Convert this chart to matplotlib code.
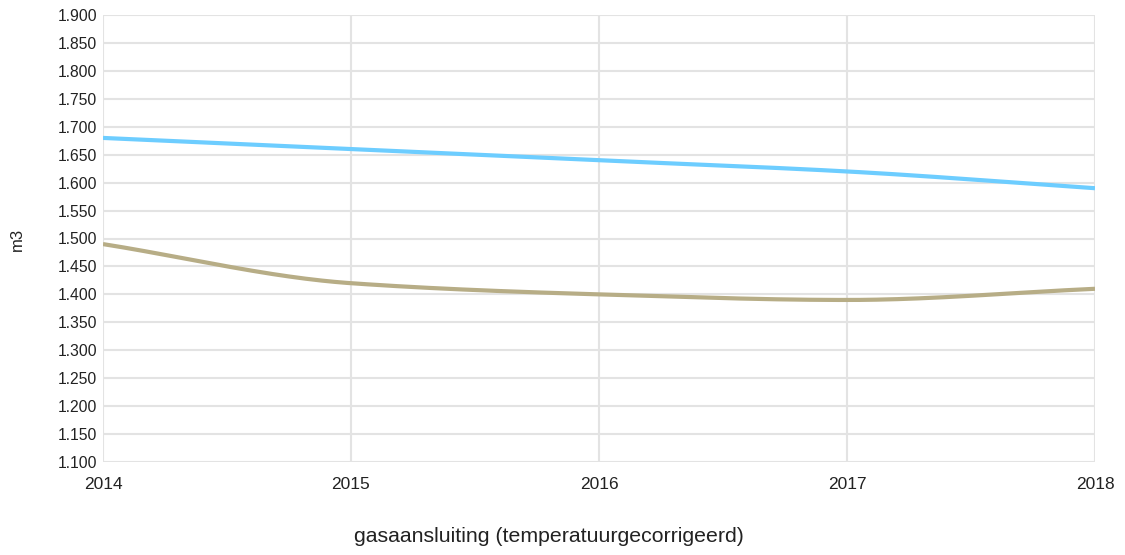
import numpy as np
import matplotlib
matplotlib.use("Agg")
import matplotlib.pyplot as plt
from matplotlib.ticker import FixedLocator, FuncFormatter

years = [2014, 2015, 2016, 2017, 2018]
series_blue = [1680, 1660, 1640, 1620, 1590]
series_khaki = [1490, 1420, 1400, 1390, 1410]
y_ticks = list(range(1100, 1901, 50))
x_label = "gasaansluiting (temperatuurgecorrigeerd)"
y_label = "m3"

plt.rcParams['font.family'] = ['Liberation Sans', 'DejaVu Sans']


def monotone_curve(x, y, n=60):
    x = np.asarray(x, float)
    y = np.asarray(y, float)
    h = np.diff(x)
    d = np.diff(y) / h
    m = np.zeros_like(y)
    m[0] = d[0]
    m[-1] = d[-1]
    for i in range(1, len(y) - 1):
        if d[i - 1] * d[i] <= 0:
            m[i] = 0
        else:
            w1 = 2 * h[i] + h[i - 1]
            w2 = h[i] + 2 * h[i - 1]
            m[i] = (w1 + w2) / (w1 / d[i - 1] + w2 / d[i])
    xs, ys = [], []
    for i in range(len(x) - 1):
        t = np.linspace(0, 1, n, endpoint=(i == len(x) - 2))
        h00 = 2 * t**3 - 3 * t**2 + 1
        h10 = t**3 - 2 * t**2 + t
        h01 = -2 * t**3 + 3 * t**2
        h11 = t**3 - t**2
        xs.append(x[i] + t * h[i])
        ys.append(h00 * y[i] + h10 * h[i] * m[i] + h01 * y[i + 1] + h11 * h[i] * m[i + 1])
    return np.concatenate(xs), np.concatenate(ys)


fig = plt.figure(figsize=(11.25, 5.55), dpi=100)
ax = fig.add_axes([103 / 1125, 1 - 462 / 555, (1095 - 103) / 1125, (462 - 15) / 555])

for vals, col in [(series_blue, '#6dcdff'), (series_khaki, '#b7ad86')]:
    cx, cy = monotone_curve(years, vals)
    ax.plot(cx, cy, color=col, linewidth=3.0, solid_capstyle='butt', zorder=3)

ax.set_xlim(years[0], years[-1])
ax.set_ylim(y_ticks[0], y_ticks[-1])
ax.yaxis.set_major_locator(FixedLocator(y_ticks))
ax.xaxis.set_major_locator(FixedLocator(years))
ax.yaxis.set_major_formatter(FuncFormatter(lambda v, p: f"{int(v):,}".replace(',', '.')))
ax.xaxis.set_major_formatter(FuncFormatter(lambda v, p: f"{int(v)}"))
ax.grid(True, color='#e3e3e3', linewidth=1.5, zorder=0)
for s in ax.spines.values():
    s.set_visible(False)
ax.tick_params(length=0, colors='#222222')
ax.tick_params(axis='y', labelsize=11.3, pad=4)
ax.tick_params(axis='x', labelsize=12.5, pad=11)

fig.text(17 / 1125, 1 - 239 / 555, y_label, rotation=90, ha='center', va='center',
         fontsize=12, color='#222222')
fig.text(549 / 1125, 1 - 537 / 555, x_label, ha='center', va='center',
         fontsize=15.3, color='#222222')

fig.savefig('out.png', dpi=100)
